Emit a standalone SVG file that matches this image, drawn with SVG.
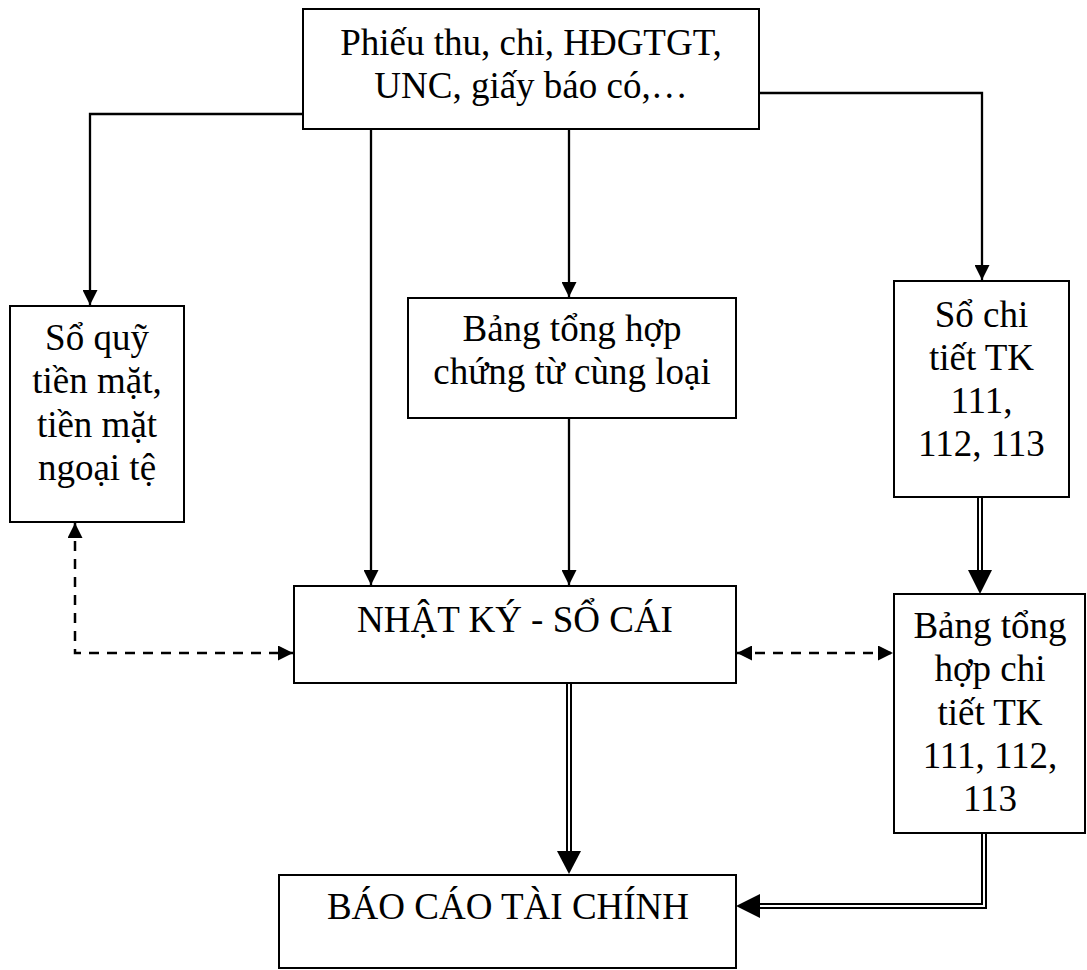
<svg xmlns="http://www.w3.org/2000/svg" width="1087" height="970" viewBox="0 0 1087 970">
  <style>
    .box { fill: #ffffff; stroke: #000000; stroke-width: 2; }
    .lbl { font-family: "Liberation Serif", "Times New Roman", serif; font-size: 37px; fill: #000000; text-anchor: middle; }
    .ln { fill: none; stroke: #000000; stroke-width: 2.3; }
    .dash { fill: none; stroke: #000000; stroke-width: 2.5; stroke-dasharray: 10 8; }
    .dbl-outer { fill: none; stroke: #000000; stroke-width: 6; }
    .dbl-inner { fill: none; stroke: #ffffff; stroke-width: 2; }
    .head { fill: #000000; }
  </style>
  <defs>
    <marker id="arr" viewBox="0 0 15 15" refX="15" refY="7.5" markerWidth="15" markerHeight="15" markerUnits="userSpaceOnUse" orient="auto-start-reverse">
      <path d="M0,0 L15,7.5 L0,15 z" fill="#000000"/>
    </marker>
  </defs>

  <rect width="1087" height="970" fill="#ffffff"/>

  <g id="connectors">
    <!-- source documents to the ledgers -->
    <path class="ln" d="M303,114 H90 V305" marker-end="url(#arr)"/>
    <path class="ln" d="M371,129 V585" marker-end="url(#arr)"/>
    <path class="ln" d="M569,129 V297" marker-end="url(#arr)"/>
    <path class="ln" d="M759,93 H982 V280" marker-end="url(#arr)"/>
    <path class="ln" d="M569,418 V585" marker-end="url(#arr)"/>

    <!-- cross-checks (dashed) -->
    <path class="dash" d="M75,523 V653 H293" marker-start="url(#arr)" marker-end="url(#arr)"/>
    <path class="dash" d="M737,653 H893" marker-start="url(#arr)" marker-end="url(#arr)"/>

    <!-- summary flows (double lines) -->
    <path class="dbl-outer" d="M569,683 V852"/>
    <path class="dbl-inner" d="M569,683 V852"/>
    <polygon class="head" points="557,851 581,851 569,874"/>

    <path class="dbl-outer" d="M980,497 V571"/>
    <path class="dbl-inner" d="M980,497 V571"/>
    <polygon class="head" points="968,570 992,570 980,594"/>

    <path class="dbl-outer" d="M984,833 V906 H759"/>
    <path class="dbl-inner" d="M984,833 V906 H759"/>
    <polygon class="head" points="760,894 760,918 736,906"/>
  </g>

  <g id="chung-tu">
    <rect class="box" x="303" y="9" width="456" height="120"/>
    <text class="lbl" x="531" y="55">Phiếu thu, chi, HĐGTGT,</text>
    <text class="lbl" x="531" y="98">UNC, giấy báo có,…</text>
  </g>

  <g id="so-quy">
    <rect class="box" x="10" y="306" width="174" height="216"/>
    <text class="lbl" x="97" y="350">Sổ quỹ</text>
    <text class="lbl" x="97" y="393">tiền mặt,</text>
    <text class="lbl" x="97" y="437">tiền mặt</text>
    <text class="lbl" x="97" y="480">ngoại tệ</text>
  </g>

  <g id="bang-tong-hop-chung-tu">
    <rect class="box" x="408" y="298" width="328" height="120"/>
    <text class="lbl" x="572" y="341">Bảng tổng hợp</text>
    <text class="lbl" x="572" y="384">chứng từ cùng loại</text>
  </g>

  <g id="so-chi-tiet">
    <rect class="box" x="894" y="281" width="175" height="216"/>
    <text class="lbl" x="981.5" y="327">Sổ chi</text>
    <text class="lbl" x="981.5" y="370">tiết TK</text>
    <text class="lbl" x="981.5" y="413">111,</text>
    <text class="lbl" x="981.5" y="456">112, 113</text>
  </g>

  <g id="nhat-ky-so-cai">
    <rect class="box" x="294" y="586" width="442" height="97"/>
    <text class="lbl" x="515" y="632">NHẬT KÝ - SỔ CÁI</text>
  </g>

  <g id="bang-tong-hop-chi-tiet">
    <rect class="box" x="894" y="594" width="191" height="239"/>
    <text class="lbl" x="990" y="638">Bảng tổng</text>
    <text class="lbl" x="990" y="681">hợp chi</text>
    <text class="lbl" x="990" y="725">tiết TK</text>
    <text class="lbl" x="990" y="768">111, 112,</text>
    <text class="lbl" x="990" y="811">113</text>
  </g>

  <g id="bao-cao-tai-chinh">
    <rect class="box" x="279" y="875" width="457" height="93"/>
    <text class="lbl" x="508" y="919">BÁO CÁO TÀI CHÍNH</text>
  </g>
</svg>
